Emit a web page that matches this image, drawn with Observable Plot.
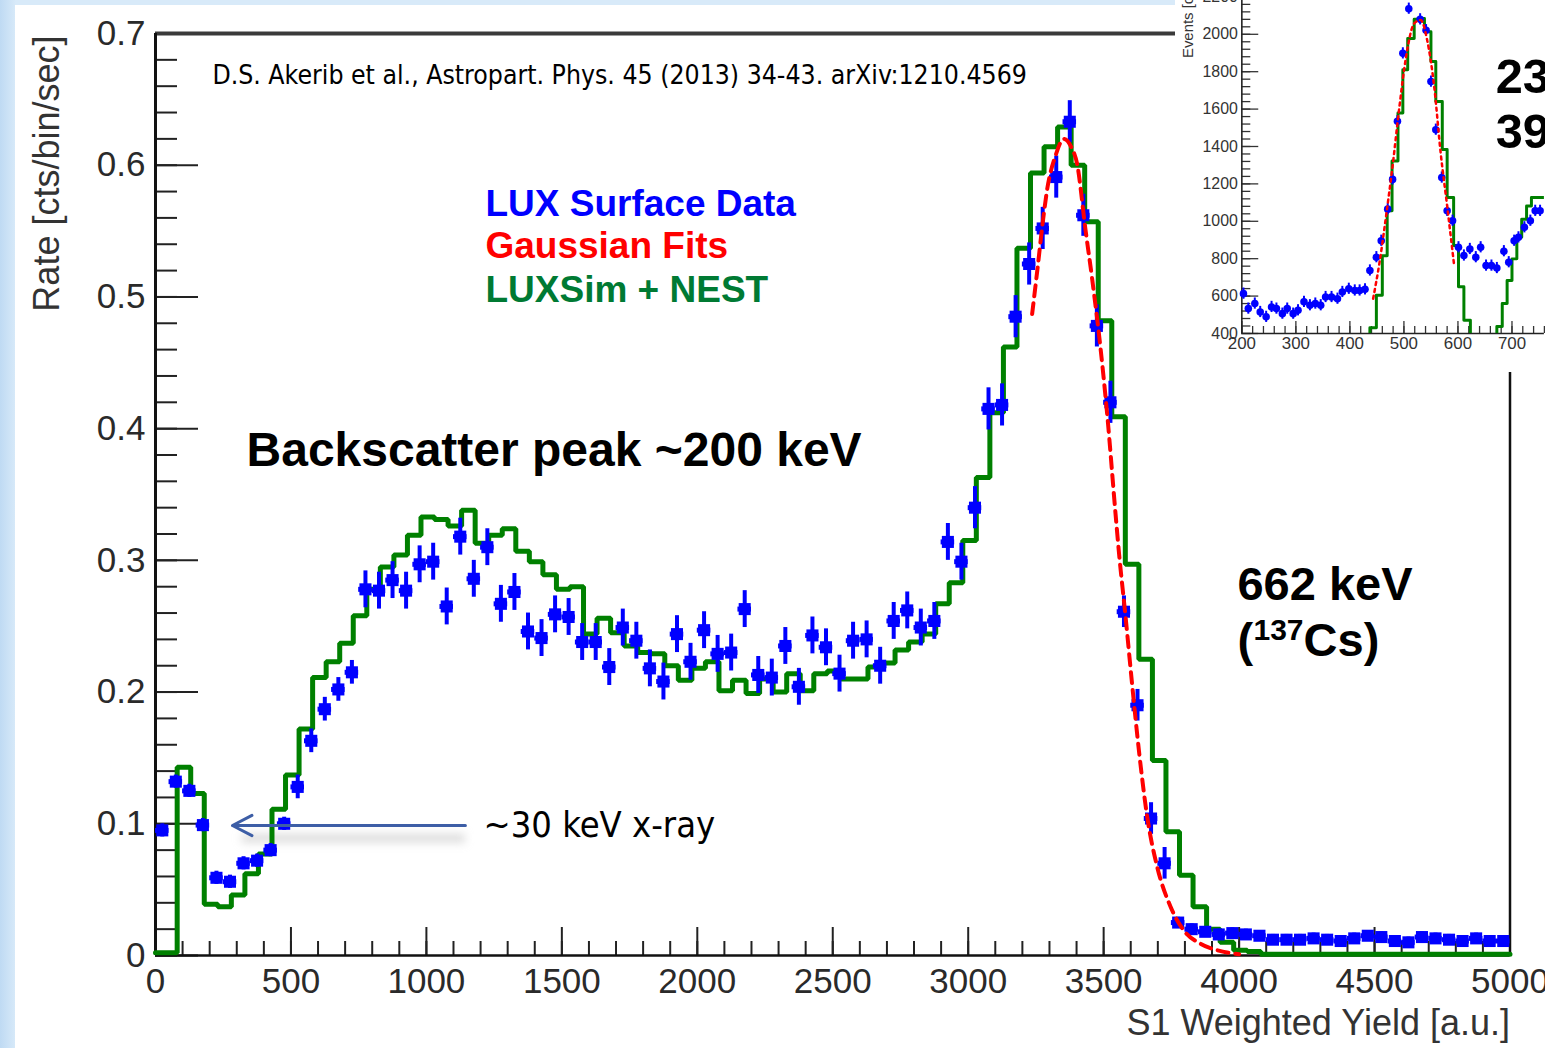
<!DOCTYPE html>
<html><head><meta charset="utf-8">
<script src="https://cdn.jsdelivr.net/npm/d3@7"></script>
<script src="https://cdn.jsdelivr.net/npm/@observablehq/plot@0.6"></script>
<style>
html,body{margin:0;padding:0;width:1545px;height:1048px;overflow:hidden;background:linear-gradient(to right,#bfdaf3 0px,#d8eaf9 16px);}
#paper{position:absolute;left:15px;top:5px;width:1530px;height:1043px;background:#fff;}
#main{position:absolute;left:0;top:0;}
#inset{position:absolute;left:1175px;top:0;width:370px;height:372px;overflow:hidden;background:#fff;}
#inset svg{position:absolute;left:0;top:-40px;}
</style></head><body>
<div id="paper"></div><div id="main"></div><div id="inset"></div>
<script>
// ---------------- main chart data ----------------
const binWidth = 50;
const blueCenters = d3.range(25, 5000, binWidth);
const blueRate = [
  0.095,0.132,0.125,0.099,0.059,0.056,0.070,0.072,0.080,0.100,
  0.128,0.163,0.187,0.202,0.215,0.278,0.277,0.285,0.277,0.297,
  0.299,0.265,0.318,0.286,0.310,0.267,0.276,0.246,0.241,0.259,
  0.257,0.238,0.238,0.219,0.249,0.239,0.218,0.208,0.244,0.223,
  0.247,0.229,0.230,0.263,0.213,0.211,0.235,0.204,0.243,0.234,
  0.214,0.239,0.240,0.220,0.254,0.262,0.249,0.254,0.314,0.299,
  0.340,0.415,0.418,0.485,0.525,0.552,0.591,0.633,0.562,0.478,
  0.420,0.261,0.190,0.104,0.070,0.025,0.020,0.018,0.016,0.017,
  0.016,0.015,0.012,0.012,0.012,0.013,0.012,0.011,0.013,0.015,
  0.014,0.011,0.010,0.014,0.013,0.012,0.011,0.013,0.011,0.011];
const blueErr = [
  0.005,0.005,0.005,0.005,0.005,0.005,0.005,0.005,0.005,0.005,
  0.009,0.009,0.009,0.009,0.009,0.014,0.014,0.014,0.014,0.014,
  0.014,0.014,0.014,0.014,0.014,0.014,0.014,0.014,0.014,0.014,
  0.014,0.014,0.014,0.014,0.014,0.014,0.014,0.014,0.014,0.014,
  0.014,0.014,0.014,0.014,0.014,0.014,0.014,0.014,0.014,0.014,
  0.014,0.014,0.014,0.014,0.014,0.014,0.014,0.014,0.014,0.014,
  0.016,0.016,0.016,0.016,0.016,0.016,0.016,0.016,0.016,0.016,
  0.016,0.012,0.012,0.012,0.012,0.004,0.004,0.004,0.004,0.004,
  0.004,0.004,0.004,0.004,0.004,0.004,0.004,0.004,0.004,0.004,
  0.004,0.004,0.004,0.004,0.004,0.004,0.004,0.004,0.004,0.004];

const greenEdges = [0, ...d3.range(80, 5000, binWidth)];
const greenRate = [
  0.002,
  0.143,0.123,0.039,0.037,0.046,0.062,0.077,0.111,0.137,0.172,
  0.211,0.223,0.237,0.258,0.278,0.295,0.304,0.319,0.333,0.331,
  0.326,0.338,0.313,0.319,0.324,0.307,0.299,0.289,0.278,0.280,
  0.244,0.256,0.245,0.235,0.230,0.229,0.220,0.209,0.218,0.223,
  0.201,0.209,0.199,0.210,0.200,0.214,0.201,0.214,0.216,0.210,
  0.210,0.219,0.222,0.232,0.238,0.244,0.267,0.283,0.315,0.363,
  0.412,0.462,0.537,0.594,0.614,0.629,0.600,0.557,0.482,0.409,
  0.297,0.225,0.148,0.094,0.061,0.037,0.020,0.010,0.004,0.003,
  0.001,0.001,0.001,0.001,0.001,0.001,0.001,0.001,0.001,0.001,
  0.001,0.001,0.001,0.001,0.001,0.001,0.001,0.001,0.001];

const fitX = [3236,3255,3279,3291,3322,3353,3380,3402,3433,3458,3488,3513,3544,3556,3581,3605,3630,3661,3698,3747,3796,3857,3919,4000];
const fitRate = [0.487,0.520,0.563,0.581,0.607,0.620,0.614,0.601,0.551,0.513,0.462,0.411,0.335,0.307,0.257,0.206,0.156,0.105,0.067,0.037,0.019,0.009,0.004,0.001];

const xMajor = [0,500,1000,1500,2000,2500,3000,3500,4000,4500,5000];
const xTickLabels = ["0","500","1000","1500","2000","2500","3000","3500","4000","4500","5000"];
const xMinor = d3.range(0, 5001, 100);
const yMajor = [0,0.1,0.2,0.3,0.4,0.5,0.6,0.7];
const yTickLabels = ["0","0.1","0.2","0.3","0.4","0.5","0.6","0.7"];
const yMinor = d3.range(0, 0.7001, 0.02);

// ---------------- inset data ----------------
const insetX = [203,212,224,234,245,255,264,275,284,295,304,315,326,336,346,355,366,377,386,398,409,418,428,437,449,458,470,479,488,498,509,519,530,541,550,559,570,580,590,601,611,622,633,642,652,662,672,685,694,704,712,723,734,743,752];
const insetEvents = [613,533,560,515,489,542,533,506,533,506,524,569,551,560,551,595,595,586,622,639,630,630,636,737,808,896,1065,1224,1535,1898,2137,2230,2080,2022,1747,1490,1234,1056,1003,861,817,852,808,861,763,763,750,840,781,896,914,968,1003,1056,1056];
const insetSimEdges = [400,437,449,460,469,478,489,498,507,519,528,538,550,559,571,580,592,601,611,623,672,682,691,700,709,718,727,736,760];
const insetSimEvents = [350,430,604,816,1056,1322,1579,1810,1978,2080,2085,2013,1854,1641,1384,1127,870,650,471,350,437,560,683,799,914,1011,1082,1127,1127];
const insetFitX = [443,455,467,479,491,504,519,531,543,556,568,580,593];
const insetFitEvents = [586,783,1029,1295,1597,1880,2058,2076,1969,1721,1366,1082,763];
const insetXMajor = [200,300,400,500,600,700];
const insetXLabels = ["200","300","400","500","600","700"];
const insetYMajor = [400,600,800,1000,1200,1400,1600,1800,2000,2200];
const insetYLabels = ["400","600","800","1000","1200","1400","1600","1800","2000","2200"];

// ---------------- build ----------------
const BLUE = "#0000ff", RED = "#ff0000", GREEN = "#008000";
const SHADOW = "#c6c6c6";
const SANS = "'Liberation Sans', Arial, Helvetica, sans-serif";
const HUMAN = "'DejaVu Sans Condensed', 'DejaVu Sans', sans-serif";

const blue = blueCenters.map((x, i) => ({x, y: blueRate[i], e: blueErr[i]}));
const green = greenEdges.map((x, i) => ({x, y: greenRate[i]}));
green.push({x: 5000, y: greenRate[greenRate.length - 1]});
const fit = fitX.map((x, i) => ({x, y: fitRate[i]}));

const main = Plot.plot({
  width: 1545, height: 1048,
  marginLeft: 155, marginRight: 35.5, marginTop: 33, marginBottom: 93,
  x: {domain: [0, 5000]},
  y: {domain: [0, 0.7]},
  style: {background: "transparent", fontFamily: SANS, overflow: "visible"},
  marks: [
    // tick labels
    Plot.axisX({ticks: xMajor, tickSize: 0, tickPadding: 13, tickFormat: d => xTickLabels[xMajor.indexOf(d)], fontSize: 35, fill: "#2a2a2a", label: null}),
    Plot.axisY({ticks: yMajor, tickSize: 0, tickPadding: 10, tickFormat: d => yTickLabels[yMajor.indexOf(d)], fontSize: 35, fill: "#2a2a2a", label: null}),
    // inward ticks
    Plot.axisX({ticks: xMinor, tickSize: -14, fill: "none", stroke: "#222", strokeWidth: 2}),
    Plot.axisX({ticks: xMajor, tickSize: -28, fill: "none", stroke: "#222", strokeWidth: 2}),
    Plot.axisY({ticks: yMinor, tickSize: -22, fill: "none", stroke: "#222", strokeWidth: 2}),
    Plot.axisY({ticks: yMajor, tickSize: -43, fill: "none", stroke: "#222", strokeWidth: 2}),
    // frame
    Plot.ruleY([0.7], {stroke: "#3a3a3a", strokeWidth: 4}),
    Plot.ruleX([5000], {stroke: "#111", strokeWidth: 2.5}),
    Plot.ruleX([0], {stroke: "#111", strokeWidth: 3}),
    Plot.ruleY([0], {stroke: "#111", strokeWidth: 2.5}),
    // arrow shadow (blurred below)
    Plot.ruleY([0.089], {x1: 320, x2: 1144, stroke: SHADOW, strokeWidth: 9, strokeOpacity: 0.6}),
    // simulation histogram
    Plot.line(green, {x: "x", y: "y", curve: "step-after", stroke: GREEN, strokeWidth: 5, strokeLinejoin: "miter"}),
    // data points with error bars
    Plot.ruleX(blue, {x: "x", y1: d => d.y - d.e, y2: d => d.y + d.e, stroke: BLUE, strokeWidth: 4}),
    Plot.ruleY(blue, {y: "y", x1: d => d.x - binWidth / 2, x2: d => d.x + binWidth / 2, stroke: BLUE, strokeWidth: 5}),
    Plot.dot(blue, {x: "x", y: "y", symbol: "square", r: 6.8, fill: BLUE}),
    // gaussian fit
    Plot.line(fit, {x: "x", y: "y", curve: "monotone-x", stroke: RED, strokeWidth: 4, strokeDasharray: "11,7"}),
    // annotations
    Plot.text(["D.S. Akerib et al., Astropart. Phys. 45 (2013) 34-43. arXiv:1210.4569"], {x: 210, y: 0.668, text: d => d, textAnchor: "start", lineAnchor: "middle", fontSize: 26.4, fontFamily: HUMAN, fill: "#000"}),
    Plot.text(["LUX Surface Data"], {x: 1218, y: 0.5708, text: d => d, textAnchor: "start", lineAnchor: "middle", fontSize: 37, fontWeight: "bold", fill: BLUE}),
    Plot.text(["Gaussian Fits"], {x: 1218, y: 0.5382, text: d => d, textAnchor: "start", lineAnchor: "middle", fontSize: 37, fontWeight: "bold", fill: RED}),
    Plot.text(["LUXSim + NEST"], {x: 1218, y: 0.5048, text: d => d, textAnchor: "start", lineAnchor: "middle", fontSize: 37, fontWeight: "bold", fill: "#007a33"}),
    Plot.text(["Backscatter peak ~200 keV"], {x: 336, y: 0.3834, text: d => d, textAnchor: "start", lineAnchor: "middle", fontSize: 48, fontWeight: "bold", fill: "#000"}),
    Plot.text(["662 keV"], {x: 3994, y: 0.281, text: d => d, textAnchor: "start", lineAnchor: "middle", fontSize: 47, fontWeight: "bold", fill: "#000"}),
    Plot.text(["("], {x: 3994, y: 0.239, text: d => d, textAnchor: "start", lineAnchor: "middle", fontSize: 47, fontWeight: "bold", fill: "#000"}),
    Plot.text(["137"], {x: 4053, y: 0.2465, text: d => d, textAnchor: "start", lineAnchor: "middle", fontSize: 30, fontWeight: "bold", fill: "#000"}),
    Plot.text(["Cs)"], {x: 4238, y: 0.239, text: d => d, textAnchor: "start", lineAnchor: "middle", fontSize: 47, fontWeight: "bold", fill: "#000"}),
    Plot.arrow([0], {x1: 1144, y1: 0.0987, x2: 284, y2: 0.0987, headLength: 11, headAngle: 55, stroke: "#3d5ea6", strokeWidth: 3}),
    Plot.text(["~30 keV x-ray"], {x: 1211, y: 0.0991, text: d => d, textAnchor: "start", lineAnchor: "middle", fontSize: 36, fontFamily: HUMAN, fill: "#000"}),
    // axis titles
    Plot.text(["Rate [cts/bin/sec]"], {frameAnchor: "top-left", dx: -108, dy: 2, rotate: -90, text: d => d, textAnchor: "end", lineAnchor: "middle", fontSize: 36, fill: "#333"}),
    Plot.text(["S1 Weighted Yield [a.u.]"], {frameAnchor: "bottom-right", dy: 68, text: d => d, textAnchor: "end", lineAnchor: "middle", fontSize: 36, fill: "#333"})
  ]
});
document.getElementById("main").appendChild(main);
// soft blur for the arrow shadow (filter region in user space so a flat line still renders)
const NS = "http://www.w3.org/2000/svg";
const defs = document.createElementNS(NS, "defs");
const filt = document.createElementNS(NS, "filter");
filt.setAttribute("id", "softShadow");
filt.setAttribute("filterUnits", "userSpaceOnUse");
filt.setAttribute("x", "0"); filt.setAttribute("y", "0");
filt.setAttribute("width", "1545"); filt.setAttribute("height", "1048");
const blur = document.createElementNS(NS, "feGaussianBlur");
blur.setAttribute("stdDeviation", "4");
filt.appendChild(blur); defs.appendChild(filt); main.insertBefore(defs, main.firstChild);
main.querySelectorAll(`[stroke="${SHADOW}"]`).forEach(el => el.setAttribute("filter", "url(#softShadow)"));

// ---------------- inset ----------------
const iBlue = insetX.map((x, i) => ({x, y: insetEvents[i]}));
const iGreen = insetSimEdges.map((x, i) => ({x, y: insetSimEvents[i]}));
const iFit = insetFitX.map((x, i) => ({x, y: insetFitEvents[i]}));
const insetErr = 30;

const inset = Plot.plot({
  width: 372, height: 420,
  marginLeft: 66.7, marginRight: 1.1, marginTop: 17.8, marginBottom: 45,
  x: {domain: [200, 760]},
  y: {domain: [400, 2300]},
  style: {background: "white", fontFamily: SANS, overflow: "visible"},
  marks: [
    Plot.axisX({ticks: insetXMajor, tickSize: 0, tickPadding: 4, tickFormat: d => insetXLabels[insetXMajor.indexOf(d)], fontSize: 17, fill: "#333", label: null}),
    Plot.axisY({ticks: insetYMajor, tickSize: 0, tickPadding: 4, tickFormat: d => insetYLabels[insetYMajor.indexOf(d)], fontSize: 16, fill: "#333", label: null}),
    Plot.axisX({ticks: d3.range(200, 761, 20), tickSize: -7, fill: "none", stroke: "#333", strokeWidth: 1.3}),
    Plot.axisX({ticks: insetXMajor, tickSize: -12, fill: "none", stroke: "#333", strokeWidth: 1.3}),
    Plot.axisY({ticks: d3.range(400, 2300, 40), tickSize: -9, fill: "none", stroke: "#333", strokeWidth: 1.3}),
    Plot.axisY({ticks: insetYMajor, tickSize: -17, fill: "none", stroke: "#333", strokeWidth: 1.3}),
    Plot.ruleX([200], {stroke: "#222", strokeWidth: 1.6}),
    Plot.ruleY([400], {stroke: "#222", strokeWidth: 1.6}),
    Plot.line(iGreen, {x: "x", y: "y", curve: "step-after", stroke: GREEN, strokeWidth: 3, clip: true}),
    Plot.ruleX(iBlue, {x: "x", y1: d => d.y - insetErr, y2: d => d.y + insetErr, stroke: BLUE, strokeWidth: 2}),
    Plot.dot(iBlue, {x: "x", y: "y", r: 3.8, fill: BLUE}),
    Plot.line(iFit, {x: "x", y: "y", curve: "monotone-x", stroke: RED, strokeWidth: 2.5, strokeDasharray: "3,4"}),
    Plot.text(["23"], {x: 670, y: 1770, text: d => d, textAnchor: "start", lineAnchor: "middle", fontSize: 49, fontWeight: "bold", fill: "#000"}),
    Plot.text(["39"], {x: 670, y: 1477, text: d => d, textAnchor: "start", lineAnchor: "middle", fontSize: 49, fontWeight: "bold", fill: "#000"}),
    Plot.text(["Events [counts]"], {x: 101, y: 1873, rotate: -90, text: d => d, textAnchor: "start", lineAnchor: "middle", fontSize: 15, fill: "#333"})
  ]
});
document.getElementById("inset").appendChild(inset);
</script>
</body></html>
